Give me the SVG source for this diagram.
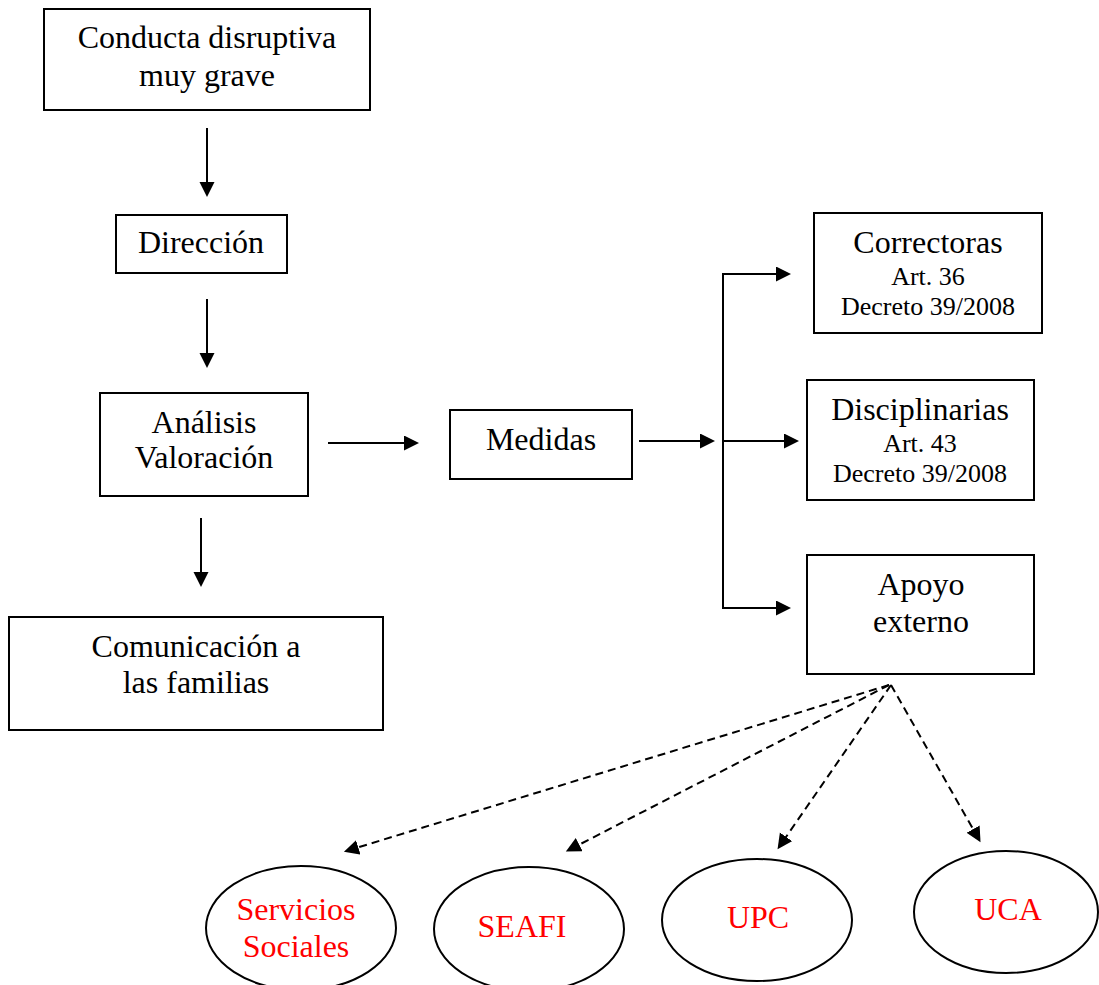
<svg xmlns="http://www.w3.org/2000/svg" width="1099" height="985" viewBox="0 0 1099 985">
<style>
.box{fill:#fff;stroke:#000;stroke-width:2}
.ell{fill:#fff;stroke:#000;stroke-width:2}
.t{font-family:"Liberation Serif","Times New Roman",serif;font-size:32px;fill:#000;text-anchor:middle}
.s{font-family:"Liberation Serif","Times New Roman",serif;font-size:26px;fill:#000;text-anchor:middle}
.r{font-family:"Liberation Serif","Times New Roman",serif;font-size:32px;fill:#ff0000;text-anchor:middle}
.ln{fill:none;stroke:#000;stroke-width:2}
.dl{fill:none;stroke:#000;stroke-width:2;stroke-dasharray:8 5}
</style>
<defs>
<marker id="ah" markerUnits="userSpaceOnUse" markerWidth="16" markerHeight="16" refX="1" refY="7.5" orient="auto">
<path d="M0,0 L15,7.5 L0,15 Z" fill="#000"/>
</marker>
</defs>
<rect width="1099" height="985" fill="#fff"/>
<g id="connectors">
<line class="ln" x1="207" y1="128" x2="207" y2="183" marker-end="url(#ah)"/>
<line class="ln" x1="207" y1="299" x2="207" y2="354" marker-end="url(#ah)"/>
<line class="ln" x1="201" y1="518" x2="201" y2="573" marker-end="url(#ah)"/>
<line class="ln" x1="328" y1="443" x2="405" y2="443" marker-end="url(#ah)"/>
<line class="ln" x1="639" y1="441" x2="701" y2="441" marker-end="url(#ah)"/>
<line class="ln" x1="723" y1="273" x2="723" y2="609"/>
<line class="ln" x1="722" y1="274" x2="777" y2="274" marker-end="url(#ah)"/>
<line class="ln" x1="722" y1="441" x2="785" y2="441" marker-end="url(#ah)"/>
<line class="ln" x1="722" y1="608" x2="777" y2="608" marker-end="url(#ah)"/>
<line class="dl" x1="889" y1="685" x2="357.3" y2="847.6" marker-end="url(#ah)"/>
<line class="dl" x1="889" y1="685" x2="578.3" y2="845.1" marker-end="url(#ah)"/>
<line class="dl" x1="891" y1="685" x2="785.5" y2="837.7" marker-end="url(#ah)"/>
<line class="dl" x1="891" y1="685" x2="973.6" y2="830" marker-end="url(#ah)"/>
</g>
<g id="conducta">
<rect class="box" x="44" y="9" width="326" height="101"/>
<text class="t" x="207" y="48">Conducta disruptiva</text>
<text class="t" x="207" y="86">muy grave</text>
</g>
<g id="direccion">
<rect class="box" x="116" y="215" width="171" height="58"/>
<text class="t" x="201" y="253">Dirección</text>
</g>
<g id="analisis">
<rect class="box" x="100" y="393" width="208" height="103"/>
<text class="t" x="204" y="433">Análisis</text>
<text class="t" x="204" y="468">Valoración</text>
</g>
<g id="medidas">
<rect class="box" x="450" y="410" width="182" height="69"/>
<text class="t" x="541" y="450">Medidas</text>
</g>
<g id="comunicacion">
<rect class="box" x="9" y="617" width="374" height="113"/>
<text class="t" x="196" y="657">Comunicación a</text>
<text class="t" x="196" y="693">las familias</text>
</g>
<g id="correctoras">
<rect class="box" x="814" y="213" width="228" height="120"/>
<text class="t" x="928" y="253">Correctoras</text>
<text class="s" x="928" y="285">Art. 36</text>
<text class="s" x="928" y="315">Decreto 39/2008</text>
</g>
<g id="disciplinarias">
<rect class="box" x="807" y="380" width="227" height="120"/>
<text class="t" x="920" y="420">Disciplinarias</text>
<text class="s" x="920" y="452">Art. 43</text>
<text class="s" x="920" y="482">Decreto 39/2008</text>
</g>
<g id="apoyo">
<rect class="box" x="807" y="555" width="227" height="119"/>
<text class="t" x="921" y="595">Apoyo</text>
<text class="t" x="921" y="632">externo</text>
</g>
<g id="servicios">
<ellipse class="ell" cx="301" cy="928" rx="95" ry="62"/>
<text class="r" x="296" y="920">Servicios</text>
<text class="r" x="296" y="957">Sociales</text>
</g>
<g id="seafi">
<ellipse class="ell" cx="529" cy="929" rx="95" ry="62"/>
<text class="r" x="522" y="937">SEAFI</text>
</g>
<g id="upc">
<ellipse class="ell" cx="757" cy="920" rx="95" ry="61"/>
<text class="r" x="758" y="928">UPC</text>
</g>
<g id="uca">
<ellipse class="ell" cx="1006" cy="912" rx="92" ry="61"/>
<text class="r" x="1008" y="920">UCA</text>
</g>
</svg>
